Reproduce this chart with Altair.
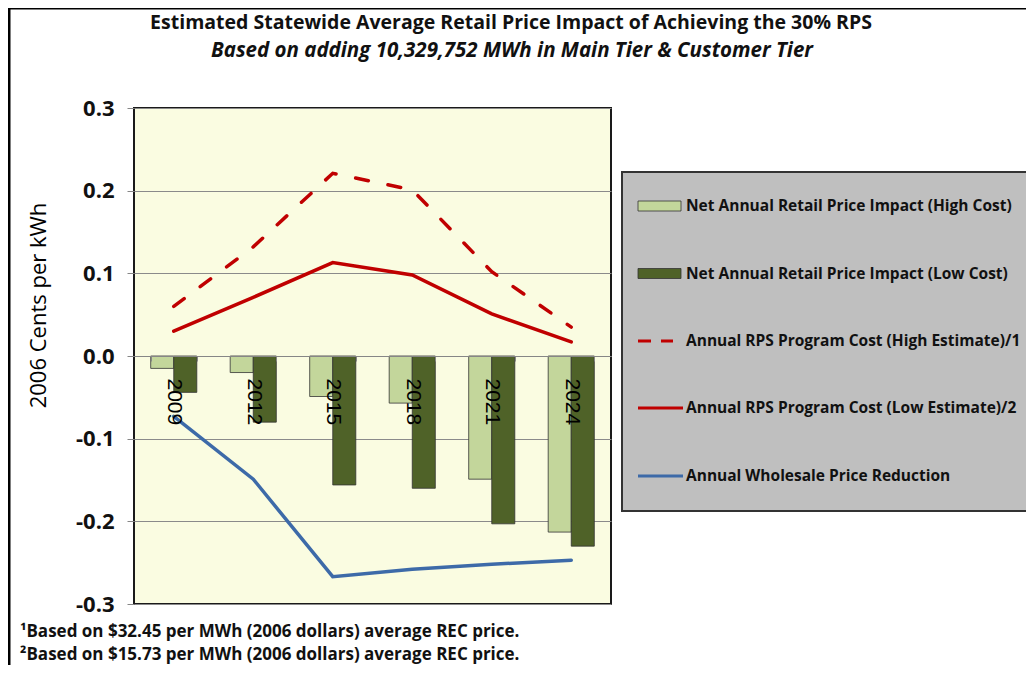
import altair as alt
import pandas as pd

# ---------------- data ----------------
years = ["2009", "2012", "2015", "2018", "2021", "2024"]
net_high_cost = [-0.015, -0.020, -0.049, -0.057, -0.149, -0.213]
net_low_cost = [-0.044, -0.080, -0.156, -0.160, -0.203, -0.230]
rps_high_estimate = [0.060, 0.132, 0.221, 0.201, 0.102, 0.035]
rps_low_estimate = [0.030, 0.071, 0.113, 0.098, 0.051, 0.017]
wholesale_reduction = [-0.073, -0.149, -0.267, -0.258, -0.252, -0.247]

series_names = [
    "Net Annual Retail Price Impact (High Cost)",
    "Net Annual Retail Price Impact (Low Cost)",
    "Annual RPS Program Cost (High Estimate)/1",
    "Annual RPS Program Cost (Low Estimate)/2",
    "Annual Wholesale Price Reduction",
]
y_ticks = [-0.3, -0.2, -0.1, 0.0, 0.1, 0.2, 0.3]
y_title = "2006 Cents per kWh"
title_text = "Estimated Statewide Average Retail Price Impact of Achieving the 30% RPS"
subtitle_text = "Based on adding 10,329,752 MWh in Main Tier & Customer Tier"
footnotes = [
    "\u00b9Based on $32.45 per MWh (2006 dollars) average REC price.",
    "\u00b2Based on $15.73 per MWh (2006 dollars) average REC price.",
]

# ---------------- styles ----------------
LIGHT = "#C3D69B"
DARK = "#4F6228"
RED = "#C00000"
BLUE = "#3D6AA8"
W, H = 477, 496
FONT = "Open Sans"

bars_df = pd.DataFrame({
    "year": years * 2,
    "series": [series_names[0]] * len(years) + [series_names[1]] * len(years),
    "value": net_high_cost + net_low_cost,
})
lines_df = pd.DataFrame({
    "year": years,
    "rps_high": rps_high_estimate,
    "rps_low": rps_low_estimate,
    "wholesale": wholesale_reduction,
})

x_scale = alt.Scale(domain=years, paddingInner=0.42, paddingOuter=0.21)
y_scale = alt.Scale(domain=[-0.3, 0.3], nice=False, zero=False)

x_axis = alt.Axis(
    title=None, orient="bottom", offset=-H / 2, labelAngle=90,
    labelFont="Liberation Sans", labelFontSize=21, labelColor="#000000",
    labelPadding=17, tickBand="extent", tickSize=5, tickColor="#868686",
    domainColor="#868686", domainWidth=1.2, zindex=2,
)
y_axis = alt.Axis(
    title=y_title, values=y_ticks,
    labelExpr="datum.value < 0 ? '-' + format(abs(datum.value), '.1f') : format(datum.value, '.1f')",
    labelFont=FONT, labelFontWeight="bold", labelFontSize=22, labelColor="#111111",
    labelPadding=13, tickSize=7, tickColor="#868686", domain=False,
    grid=True, gridColor="#8a8a8a", gridWidth=1,
    titleFont=FONT, titleFontSize=22, titleFontWeight="normal", titleColor="#000000",
    titleX=-96, titleY=197, titleAngle=-90, titleAlign="center", titleBaseline="middle",
)

bars = alt.Chart(bars_df).mark_bar(stroke="#333333", strokeWidth=0.8).encode(
    x=alt.X("year:N", scale=x_scale, axis=x_axis),
    xOffset=alt.XOffset("series:N", sort=series_names[:2]),
    y=alt.Y("value:Q", scale=y_scale, axis=y_axis),
    color=alt.Color("series:N", scale=alt.Scale(domain=series_names[:2], range=[LIGHT, DARK]), legend=None),
)

base = alt.Chart(lines_df).encode(x=alt.X("year:N", scale=x_scale))
line_high = base.mark_line(color=RED, strokeWidth=3.5, strokeDash=[13, 20], strokeCap="round").encode(
    y=alt.Y("rps_high:Q", scale=y_scale))
line_low = base.mark_line(color=RED, strokeWidth=3.5, strokeCap="round").encode(
    y=alt.Y("rps_low:Q", scale=y_scale))
line_whole = base.mark_line(color=BLUE, strokeWidth=3.5, strokeCap="round").encode(
    y=alt.Y("wholesale:Q", scale=y_scale))

one = pd.DataFrame({"k": [0]})

def txt(s, x, y, size, weight="bold", style="normal", align="center"):
    return alt.Chart(pd.DataFrame({"label": [s]})).mark_text(
        font=FONT, fontSize=size, fontWeight=weight, fontStyle=style,
        align=align, baseline="middle", color="#111111",
    ).encode(text="label:N", x=alt.value(x), y=alt.value(y))

layers = [bars, line_high, line_low, line_whole]
# outer frame (stroke only)
layers.append(alt.Chart(one).mark_rect(fillOpacity=0, stroke="#000000", strokeWidth=3).encode(
    x=alt.value(-125), x2=alt.value(2000), y=alt.value(-100), y2=alt.value(2000)))
layers.append(txt(title_text, 377, -85, 19.5))
layers.append(txt(subtitle_text, 378, -57, 20.5, style="italic"))
layers.append(txt(footnotes[0], -114, 524, 17, align="left"))
layers.append(txt(footnotes[1], -114, 547, 17, align="left"))

# legend box
LX0, LY0, LY1 = 488, 64, 403
layers.append(alt.Chart(one).mark_rect(fill="#BFBFBF", stroke="#333333", strokeWidth=2).encode(
    x=alt.value(LX0), x2=alt.value(2000), y=alt.value(LY0), y2=alt.value(LY1)))
row_y = [98, 165.5, 233, 300, 368]
for i, name in enumerate(series_names):
    yy = row_y[i]
    if i < 2:
        layers.append(alt.Chart(one).mark_rect(fill=[LIGHT, DARK][i], stroke="#333333", strokeWidth=0.8).encode(
            x=alt.value(504), x2=alt.value(547), y=alt.value(yy - 5), y2=alt.value(yy + 5)))
    else:
        col = RED if i < 4 else BLUE
        kw = {"strokeDash": [13, 10]} if i == 2 else {}
        layers.append(alt.Chart(one).mark_rule(color=col, strokeWidth=3, **kw).encode(
            x=alt.value(504), x2=alt.value(539 if i == 2 else 549), y=alt.value(yy)))
    layers.append(txt(name, 552, yy, 15.5, align="left"))

chart = alt.layer(*layers).properties(
    width=W, height=H,
    autosize=alt.AutoSizeParams(type="none"),
    padding={"left": 126, "top": 100, "right": 415, "bottom": 61},
).configure(
    font=FONT,
    view=alt.ViewConfig(fill="#FAFCE1", stroke="#1a1a1a", strokeWidth=2),
)

chart.save("out.html", embed_options={"renderer": "svg", "actions": False})
